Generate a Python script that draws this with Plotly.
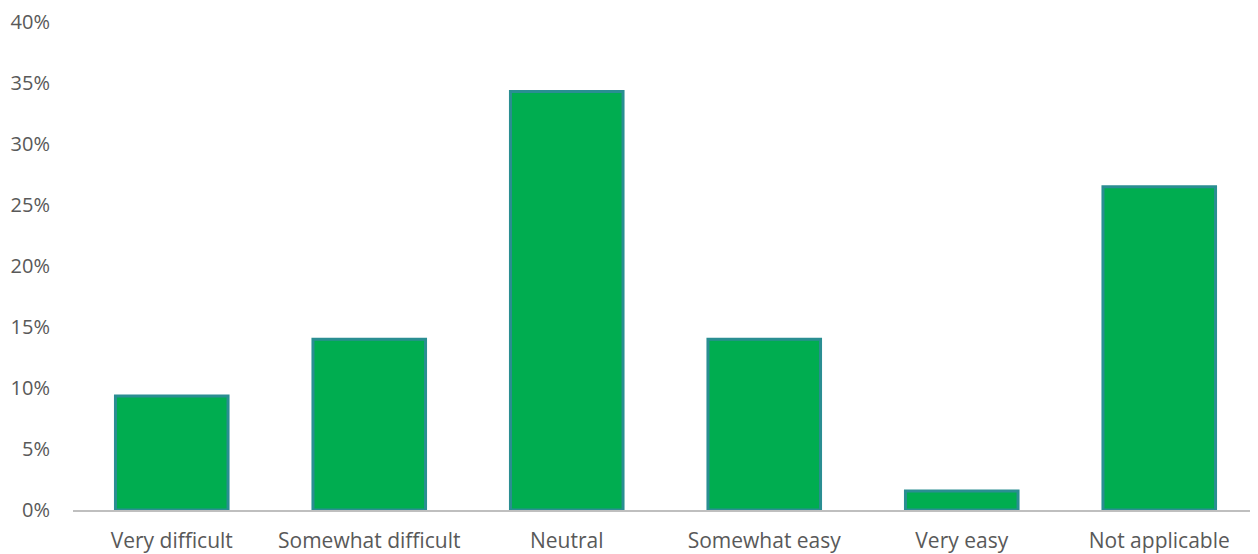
import plotly.graph_objects as go

categories = ["Very difficult", "Somewhat difficult", "Neutral", "Somewhat easy", "Very easy", "Not applicable"]
values = [0.0935, 0.140, 0.343, 0.140, 0.0155, 0.265]
y_ticks = [0, 0.05, 0.10, 0.15, 0.20, 0.25, 0.30, 0.35, 0.40]
y_tick_labels = ["0%", "5%", "10%", "15%", "20%", "25%", "30%", "35%", "40%"]

fig = go.Figure(go.Bar(
    x=categories, y=values,
    marker=dict(color="#00AD50", line=dict(color="#2A8E92", width=3)),
    width=0.57,
))

fig.update_layout(
    width=1250, height=546,
    margin=dict(l=65, r=0, t=12, b=41),
    plot_bgcolor="white", paper_bgcolor="white",
    showlegend=False,
    font=dict(family="'Open Sans', Lato, sans-serif", size=20, color="#595959"),
    xaxis=dict(showline=True, linecolor="#BFBFBF", linewidth=2, ticks="",
               tickfont=dict(size=21, color="#595959"), showgrid=False, range=[-0.5, 5.5],
               ticklabelstandoff=11, ticklabeloverflow="allow"),
    yaxis=dict(range=[0, 0.40], tickvals=y_ticks, ticktext=y_tick_labels, showgrid=False,
               zeroline=False, showline=False, ticks="", ticklabelstandoff=22,
               ticklabeloverflow="allow",
               tickfont=dict(size=20, color="#595959")),
)

fig.write_html("out.html")
